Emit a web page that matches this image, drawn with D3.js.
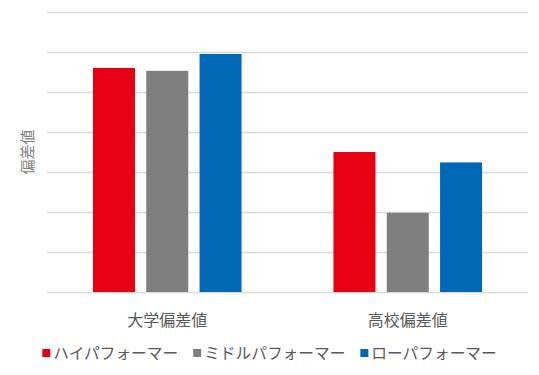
<!DOCTYPE html>
<html>
<head>
<meta charset="utf-8">
<script src="https://cdn.jsdelivr.net/npm/d3@7"></script>
<style>
  html, body { margin: 0; padding: 0; background: #fff; }
  svg text { font-family: "Noto Sans CJK JP", "Noto Sans", sans-serif; fill: #595959; }
</style>
</head>
<body>
<div id="chart"></div>
<script>
// data
const categories = ["大学偏差値", "高校偏差値"];
const seriesNames = ["ハイパフォーマー", "ミドルパフォーマー", "ローパフォーマー"];
const highValues = [56, 35];
const middleValues = [55.3, 19.8];
const lowValues = [59.5, 32.4];
const yTicks = [0, 10, 20, 30, 40, 50, 60, 70];
const yLabel = "偏差値";

const colors = ["#e60012", "#7f7f7f", "#0068b7"];

const width = 539, height = 375;
const margin = { top: 12, right: 11, bottom: 83, left: 47 };
const innerW = width - margin.left - margin.right;
const innerH = height - margin.top - margin.bottom;

const rows = categories.map((c, i) => ({
  category: c,
  values: [highValues[i], middleValues[i], lowValues[i]]
}));

const svg = d3.select("#chart").append("svg")
  .attr("width", width)
  .attr("height", height);

const chart = svg.append("g")
  .attr("transform", `translate(${margin.left},${margin.top})`);

const x0 = d3.scaleBand().domain(categories).range([0, innerW]);
const x1 = d3.scaleBand().domain(seriesNames)
  .range([0, x0.bandwidth()])
  .paddingInner(0.212)
  .paddingOuter(0.862);
const y = d3.scaleLinear().domain([0, 70]).range([innerH, 0]);
const color = d3.scaleOrdinal().domain(seriesNames).range(colors);

// gridlines (no tick labels)
chart.append("g")
  .attr("class", "grid")
  .call(d3.axisLeft(y).tickValues(yTicks).tickSize(-innerW).tickFormat(""))
  .call(g => g.select(".domain").remove())
  .call(g => g.selectAll("line").attr("stroke", "#d9d9d9").attr("stroke-width", 1.3));

// bars
const groups = chart.selectAll(".cat")
  .data(rows)
  .join("g")
  .attr("class", "cat")
  .attr("transform", d => `translate(${x0(d.category)},0)`);

groups.selectAll("rect")
  .data(d => d.values.map((v, i) => ({ name: seriesNames[i], value: v })))
  .join("rect")
  .attr("x", d => x1(d.name))
  .attr("width", x1.bandwidth())
  .attr("y", d => y(d.value))
  .attr("height", d => innerH - y(d.value))
  .attr("fill", d => color(d.name));

// category labels
chart.append("g")
  .attr("transform", `translate(0,${innerH})`)
  .call(d3.axisBottom(x0).tickSize(0).tickPadding(0))
  .call(g => g.select(".domain").remove())
  .call(g => g.selectAll("text")
    .attr("dy", null)
    .attr("y", 34)
    .style("font-size", "16px"));

// y axis title
svg.append("text")
  .attr("transform", `translate(33,152) rotate(-90)`)
  .attr("text-anchor", "middle")
  .style("font-size", "15px")
  .style("fill", "#7f7f7f")
  .text(yLabel);

// legend, centred under the chart
const legend = svg.append("g").attr("class", "legend");
const items = legend.selectAll("g")
  .data(seriesNames)
  .join("g");
items.append("rect")
  .attr("width", 8)
  .attr("height", 8)
  .attr("y", -4)
  .attr("fill", d => color(d));
items.append("text")
  .attr("x", 11)
  .attr("dy", "0.35em")
  .style("font-size", "15.7px")
  .text(d => d);

let offset = 0;
items.each(function () {
  const item = d3.select(this);
  item.attr("transform", `translate(${offset},0)`);
  offset += 11 + item.select("text").node().getComputedTextLength() + 15;
});
const legendW = offset - 15;
legend.attr("transform", `translate(${(width - legendW) / 2},353)`);
</script>
</body>
</html>
